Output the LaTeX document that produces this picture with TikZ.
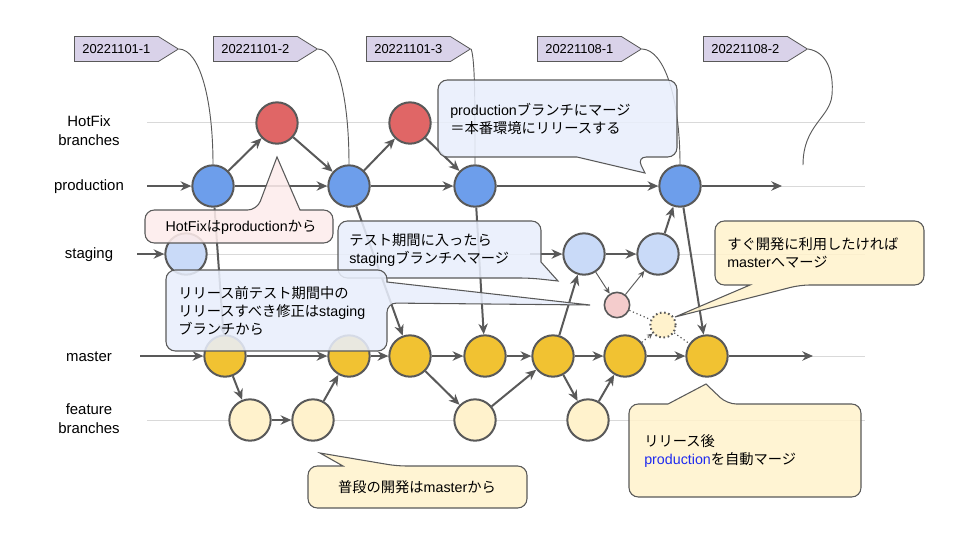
\documentclass[tikz,border=0pt]{standalone}
\usepackage{fontspec}
\setmainfont{Liberation Sans}
\newfontfamily\jp{Noto Sans CJK JP}
\usetikzlibrary{arrows.meta,shapes.symbols,positioning}

\definecolor{linegray}{HTML}{595959}
\definecolor{rowgray}{HTML}{D9D9D9}
\definecolor{prodblue}{HTML}{6D9EEB}
\definecolor{hotred}{HTML}{E06666}
\definecolor{stagblue}{HTML}{C9DAF8}
\definecolor{mastyellow}{HTML}{F1C232}
\definecolor{featyellow}{HTML}{FFF2CC}
\definecolor{fixpink}{HTML}{F4CCCC}
\definecolor{tagpurple}{HTML}{D9D2E9}
\definecolor{noteblue}{HTML}{E8EEFB}
\definecolor{notepink}{HTML}{FDECEB}
\definecolor{noteyellow}{HTML}{FFF2CC}
\definecolor{textblue}{HTML}{1F2BF0}

\begin{document}
\begin{tikzpicture}[x=0.75pt,y=-0.75pt,
  commit/.style={circle,draw=linegray,line width=1.5pt,minimum size=31pt,inner sep=0pt},
  smallcommit/.style={circle,draw=linegray,line width=1.2pt,minimum size=19pt,inner sep=0pt},
  flow/.style={draw=linegray,line width=1.5pt,-{Stealth[length=8pt,width=7pt,inset=2.5pt]}},
  fineflow/.style={draw=linegray,line width=0.7pt,-{Stealth[length=5pt,width=4.5pt,inset=1.5pt]}},
  dotflow/.style={draw=linegray,line width=0.9pt,dotted},
  rowline/.style={draw=rowgray,line width=0.75pt},
  tagline/.style={draw=linegray,line width=0.7pt},
  tag/.style={signal,signal to=east,signal pointer angle=64,draw=linegray,line width=0.6pt,
    fill=tagpurple,minimum width=78pt,minimum height=18.75pt,inner sep=3pt,
    font=\fontsize{9.7}{11}\selectfont,anchor=west},
  rowname/.style={align=center,font=\fontsize{11.2}{14.3}\selectfont},
  note/.style={draw=linegray,line width=0.8pt,fill opacity=0.87},
  notetext/.style={align=left,inner sep=0pt,font=\fontsize{10.7}{13.8}\selectfont},
]
\useasboundingbox (0,0) rectangle (960,540);

% row lines
\foreach \y in {122,186,254,356,420}
  \draw[rowline] (147,\y) -- (865,\y);

% row names
\node[rowname] (lhot) at (89,131) {HotFix\\branches};
\node[rowname] (lprod) at (89,187) {production};
\node[rowname] (lstag) at (89,255) {staging};
\node[rowname] (lmast) at (89,357) {master};
\node[rowname] (lfeat) at (89,419) {feature\\branches};

% commits
\node[commit,fill=prodblue] (p1) at (213,186) {};
\node[commit,fill=prodblue] (p2) at (349,186) {};
\node[commit,fill=prodblue] (p3) at (475,186) {};
\node[commit,fill=prodblue] (p4) at (680,186) {};
\node[commit,fill=hotred] (h1) at (277,123) {};
\node[commit,fill=hotred] (h2) at (410,123) {};
\node[commit,fill=stagblue] (s1) at (186,254) {};
\node[commit,fill=stagblue] (s2) at (584,254) {};
\node[commit,fill=stagblue] (s3) at (658,254) {};
\node[smallcommit,fill=fixpink] (q) at (617,305) {};
\node[smallcommit,fill=featyellow,dotted,line width=1.5pt] (d) at (663,325) {};
\node[commit,fill=mastyellow] (m1) at (225,356) {};
\node[commit,fill=mastyellow] (m2) at (349,356) {};
\node[commit,fill=mastyellow] (m3) at (410,356) {};
\node[commit,fill=mastyellow] (m4) at (485,356) {};
\node[commit,fill=mastyellow] (m5) at (553,356) {};
\node[commit,fill=mastyellow] (m6) at (625,356) {};
\node[commit,fill=mastyellow] (m7) at (707,356) {};
\node[commit,fill=featyellow] (f1) at (250,420) {};
\node[commit,fill=featyellow] (f2) at (313,420) {};
\node[commit,fill=featyellow] (f3) at (475,420) {};
\node[commit,fill=featyellow] (f4) at (588,420) {};

\coordinate (ps) at (147,186);
\coordinate (pe) at (782,186);
\coordinate (ss) at (137,254);
\coordinate (sx) at (530,254);
\coordinate (ms) at (140,356);
\coordinate (me) at (813,356);

% production and hotfix
\draw[flow] (ps) -- (p1);
\draw[flow] (p1) -- (p2);
\draw[flow] (p2) -- (p3);
\draw[flow] (p3) -- (p4);
\draw[flow] (p4) -- (pe);
\draw[flow] (p1) -- (h1);
\draw[flow] (h1) -- (p2);
\draw[flow] (p2) -- (h2);
\draw[flow] (h2) -- (p3);
\draw[flow] (p1) -- (m1);
\draw[flow] (p2) -- (m3);
\draw[flow] (p3) -- (m4);
\draw[flow] (p4) -- (m7);

% staging
\draw[flow] (ss) -- (s1);
\draw[flow] (sx) -- (s2);
\draw[flow] (s2) -- (s3);
\draw[flow] (s3) -- (p4);
\draw[flow] (m5) -- (s2);
\draw[fineflow] (s2) -- (q);
\draw[fineflow] (q) -- (s3);
\draw[dotflow] (q) -- (d);
\draw[dotflow,-{Stealth[length=4pt,width=4pt]}] (m6) -- (d);
\draw[dotflow] (d) -- (m7);

% master and feature
\draw[flow] (ms) -- (m1);
\draw[flow] (m1) -- (m2);
\draw[flow] (m2) -- (m3);
\draw[flow] (m3) -- (m4);
\draw[flow] (m4) -- (m5);
\draw[flow] (m5) -- (m6);
\draw[flow] (m6) -- (m7);
\draw[flow] (m7) -- (me);
\draw[flow] (m1) -- (f1);
\draw[flow] (f1) -- (f2);
\draw[flow] (f2) -- (m2);
\draw[flow] (m3) -- (f3);
\draw[flow] (f3) -- (m5);
\draw[flow] (m5) -- (f4);
\draw[flow] (f4) -- (m6);

% release tags
\node[tag] (t1) at (74,49) {20221101-1};
\node[tag] (t2) at (213,49) {20221101-2};
\node[tag] (t3) at (366,49) {20221101-3};
\node[tag] (t4) at (537,49) {20221108-1};
\node[tag] (t5) at (703,49) {20221108-2};
\coordinate (t5end) at (803,165);
\draw[tagline] (t1.east) .. controls (200,50) and (213,100) .. (p1.north);
\draw[tagline] (t2.east) .. controls (338,50) and (349,100) .. (p2.north);
\draw[tagline] (t3.east) .. controls (475,60) and (475,100) .. (p3.north);
\draw[tagline] (t4.east) .. controls (665,50) and (680,100) .. (p4.north);
\draw[tagline] (t5.east) .. controls (826,52) and (834,70) .. (832,95)
  .. controls (830,118) and (803,125) .. (t5end);

% callouts
\draw[note,fill=notepink] (277,157) -- (300,210) [rounded corners=7pt] -- (333,210) -- (333,243)
  -- (145,243) -- (145,210) -- (257,210) [sharp corners] -- cycle;
\node[notetext] (nhot) at (241,227) {HotFix{\jp は}production{\jp から}};

\draw[note,fill=noteblue] (645,173) -- (577,157) [rounded corners=7pt] -- (438,157) -- (438,80)
  -- (677,80) -- (677,157) -- (637,157) [sharp corners] -- cycle;
\node[notetext,anchor=west] (nprod) at (450,119) {production{\jp ブランチにマージ}\\{\jp ＝本番環境にリリースする}};

\draw[note,fill=noteblue] (558,281) -- (541,262) [rounded corners=7pt] -- (541,221) -- (338,221)
  -- (338,278) -- (530,278) [sharp corners] -- cycle;
\node[notetext,anchor=west] (nstag) at (349,250) {{\jp テスト期間に入ったら}\\staging{\jp ブランチへマージ}};

\draw[note,fill=noteblue] (590,305) -- (387,282) [rounded corners=7pt] -- (387,270) -- (166,270)
  -- (166,351) -- (387,351) -- (387,303) [sharp corners] -- cycle;
\node[notetext,anchor=west] (nfix) at (178,311) {{\jp リリース前テスト期間中の}\\{\jp リリースすべき修正は}staging\\{\jp ブランチから}};

\draw[note,fill=noteyellow] (675,317) -- (750,285) [rounded corners=7pt] -- (715,285) -- (715,221)
  -- (924,221) -- (924,285) -- (800,285) [sharp corners] -- cycle;
\node[notetext,anchor=west] (nnow) at (727,253) {{\jp すぐ開発に利用したければ}\\master{\jp へマージ}};

\draw[note,fill=noteyellow] (320,453) -- (343,466) [rounded corners=7pt] -- (308,466) -- (308,508)
  -- (527,508) -- (527,466) -- (397,466) [sharp corners] -- cycle;
\node[notetext] (ndev) at (417,487) {{\jp 普段の開発は}master{\jp から}};

\draw[note,fill=noteyellow] (706,384) -- (668,404) [rounded corners=7pt] -- (629,404) -- (629,497)
  -- (861,497) -- (861,404) -- (727,404) [sharp corners] -- cycle;
\node[notetext,anchor=west] (nauto) at (644,451) {{\jp リリース後}\\\textcolor{textblue}{production}{\jp を自動マージ}};
\end{tikzpicture}
\end{document}
